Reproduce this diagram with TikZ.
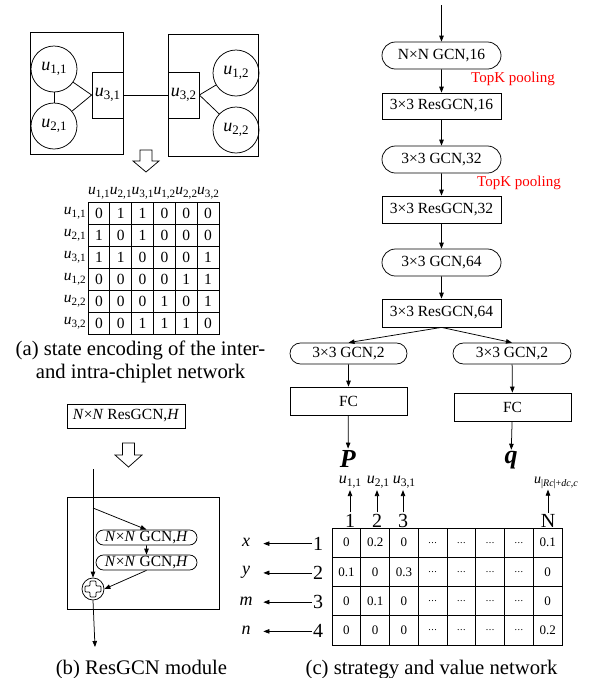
\documentclass[tikz,border=0pt]{standalone}
\usepackage{fontspec}
\setmainfont{Liberation Serif}
\usepackage{graphicx}
\usetikzlibrary{arrows.meta,calc,shapes.misc}
\newcommand\fs[1]{\fontsize{#1}{#1}\selectfont}
\newcommand\ssub[1]{\raisebox{-0.45ex}{\scalebox{0.72}{#1}}}
\newcommand\uv[1]{\textit{u}\ssub{#1}}
\newcommand\dd{{\fs{10}.\kern0.5pt.\kern0.5pt.}}
\begin{document}
\begin{tikzpicture}[x=1pt,y=-1pt,line width=0.75pt,
  arr/.style={-{Triangle[length=6pt,width=4.5pt]}},
  pill/.style={draw,rounded rectangle,inner sep=0pt,font=\fs{15.5}},
  rbox/.style={draw,rectangle,inner sep=0pt,font=\fs{15.5}},
  chipc/.style={draw,circle,minimum size=46pt,inner sep=0pt,font=\fs{18}},
  chipr/.style={draw,rectangle,minimum width=31pt,minimum height=46pt,inner sep=0pt,font=\fs{18}},
  mcell/.style={draw,rectangle,minimum width=21.83pt,minimum height=22pt,inner sep=0pt,font=\fs{15.5}},
  mhead/.style={inner sep=0pt,font=\fs{15.5}},
  tcell/.style={draw,rectangle,minimum width=28.75pt,minimum height=29.25pt,inner sep=0pt,font=\fs{13}},
  bignum/.style={inner sep=1pt,font=\fs{20}},
  letter/.style={inner sep=0pt,minimum width=34pt,font=\fs{18}\itshape},
  topk/.style={text=red,inner sep=0pt,font=\fs{15}},
  caption/.style={inner sep=0pt,anchor=base,font=\fs{20.7}},
  hollow/.style={draw,fill=white,line width=0.75pt}
]
\fill[white] (0,0) rectangle (599,678);
\useasboundingbox (0,0) rectangle (599,678);

% ---------- (a) chiplet graph ----------
\node[draw,minimum width=93pt,minimum height=122pt,inner sep=0pt] (chip1) at (76.5,93) {};
\node[draw,minimum width=90pt,minimum height=122pt,inner sep=0pt] (chip2) at (213,95) {};
\node[chipc] (a11) at (54,69) {\uv{1,1}};
\node[chipc] (a21) at (54,126) {\uv{2,1}};
\node[chipr] (a31) at (107.5,95) {\uv{3,1}};
\node[chipr] (a32) at (183.5,95) {\uv{3,2}};
\node[chipc] (a12) at (236,73) {\uv{1,2}};
\node[chipc] (a22) at (236,130) {\uv{2,2}};
\draw (a11) -- (a21);
\draw (a11) -- (a31.west);
\draw (a21) -- (a31.west);
\draw (a31.east) -- (a32.west);
\draw (a32.east) -- (a12);
\draw (a32.east) -- (a22);

% hollow arrow 1
\draw[hollow] (140,150) -- (152,150) -- (152,161) -- (159,161) -- (146,172) -- (133,161) -- (140,161) -- cycle;

% ---------- adjacency matrix ----------
\foreach \lab [count=\j] in {{1,1},{2,1},{3,1},{1,2},{2,2},{3,2}}{
  \node[mhead] (mh\j) at ({88+21.83*(\j-0.5)},193) {\uv{\lab}};
  \node[mhead,anchor=east] (mr\j) at (86,{202+22*(\j-0.5)}) {\uv{\lab}};
}
\foreach \row [count=\i] in {{0,1,1,0,0,0},{1,0,1,0,0,0},{1,1,0,0,0,1},{0,0,0,0,1,1},{0,0,0,1,0,1},{0,0,1,1,1,0}}{
  \foreach \v [count=\j] in \row {
    \node[mcell] (m-\i-\j) at ({88+21.83*(\j-0.5)},{202+22*(\i-0.5)}) {\v};
  }
}

\node[caption] (capa1) at (140.5,355) {(a) state encoding of the inter-};
\node[caption] (capa2) at (140.5,378) {and intra-chiplet network};

% ---------- (b) ResGCN module ----------
\node[rbox,minimum width=118pt,minimum height=24pt] (resb) at (126,416) {\textit{N}×\textit{N} ResGCN,\textit{H}};
\draw[hollow] (122.5,443) -- (134.5,443) -- (134.5,455) -- (142,455) -- (128.5,467) -- (115,455) -- (122.5,455) -- cycle;

\node[draw,minimum width=152pt,minimum height=112pt,inner sep=0pt] (mod) at (143,553) {};
\node[pill,minimum width=101pt,minimum height=15pt] (gh1) at (146.5,537.5) {\textit{N}×\textit{N} GCN,\textit{H}};
\node[pill,minimum width=101pt,minimum height=15pt] (gh2) at (146.5,562.5) {\textit{N}×\textit{N} GCN,\textit{H}};
\node[draw,circle,minimum size=22pt,inner sep=0pt] (plus) at (93,589) {};
\draw[rounded corners=0.8pt,shift={(plus.center)}] (-3,-8) -- (3,-8) -- (3,-3) -- (8,-3) -- (8,3) -- (3,3) -- (3,8) -- (-3,8) -- (-3,3) -- (-8,3) -- (-8,-3) -- (-3,-3) -- cycle;
\coordinate (min) at (93,469);
\coordinate (br) at (93,508);
\coordinate (mout) at (95,647);
\draw[arr] (min) -- (plus.north);
\draw[arr] (br) -- (gh1.north);
\draw[arr] (gh1) -- (gh2);
\draw[arr] (gh2.south) -- (plus.east);
\draw[arr] (plus.south) -- (mout);

\node[caption] (capb) at (141.5,674) {(b) ResGCN module};

% ---------- (c) strategy and value network ----------
\coordinate (in) at (441.5,5);
\node[pill,minimum width=119pt,minimum height=27pt] (g16) at (441.5,55.5) {N×N GCN,16};
\node[topk] (tk1) at (513,79) {TopK pooling};
\node[rbox,minimum width=119pt,minimum height=26pt] (r16) at (441.5,106) {3×3 ResGCN,16};
\node[pill,minimum width=119pt,minimum height=27pt] (g32) at (441.5,159.5) {3×3 GCN,32};
\node[topk] (tk2) at (519,183) {TopK pooling};
\node[rbox,minimum width=119pt,minimum height=27pt] (r32) at (441.5,209.5) {3×3 ResGCN,32};
\node[pill,minimum width=119pt,minimum height=27pt] (g64) at (441.5,262.5) {3×3 GCN,64};
\node[rbox,minimum width=119pt,minimum height=28pt] (r64) at (441.5,313) {3×3 ResGCN,64};
\node[pill,minimum width=117pt,minimum height=21pt] (g2l) at (348.5,353.5) {3×3 GCN,2};
\node[pill,minimum width=118pt,minimum height=21pt] (g2r) at (512,353.5) {3×3 GCN,2};
\node[rbox,minimum width=117pt,minimum height=28pt] (fcl) at (348.5,401) {FC};
\node[rbox,minimum width=117pt,minimum height=28pt] (fcr) at (512.5,407) {FC};
\node[inner sep=1pt,font=\fs{26}] (P) at (348,458.5) {\textbf{\textit{P}}};
\node[inner sep=1pt,font=\fs{26}] (q) at (511,460) {\textbf{\textit{q}}};

\draw[arr] (in) -- (g16);
\draw[arr] (g16) -- (r16);
\draw[arr] (r16) -- (g32);
\draw[arr] (g32) -- (r32);
\draw[arr] (r32) -- (g64);
\draw[arr] (g64) -- (r64);
\draw[arr] (r64.south) -- (g2l.north);
\draw[arr] (r64.south) -- (g2r.north);
\draw[arr] (g2l) -- (fcl);
\draw[arr] (g2r) -- (fcr);
\draw[arr] (fcl) -- (P);
\draw[arr] (fcr) -- (q);

% table
\foreach \row [count=\i] in {{0,0.2,0,\dd,\dd,\dd,\dd,0.1},{0.1,0,0.3,\dd,\dd,\dd,\dd,0},{0,0.1,0,\dd,\dd,\dd,\dd,0},{0,0,0,\dd,\dd,\dd,\dd,0.2}}{
  \foreach \v [count=\j] in \row {
    \node[tcell] (t-\i-\j) at ({332+28.75*(\j-0.5)},{528+29.25*(\i-0.5)}) {\v};
  }
}
% column numbers and labels
\node[bignum,anchor=base] (cn1) at (350,527) {1};
\node[bignum,anchor=base] (cn2) at (377,527) {2};
\node[bignum,anchor=base] (cn3) at (403,527) {3};
\node[bignum,anchor=base] (cnN) at (548,527) {N};
\node[inner sep=1pt,font=\fs{16}] (cl1) at (350,482.5) {\uv{1,1}};
\node[inner sep=1pt,font=\fs{16}] (cl2) at (378,482.5) {\uv{2,1}};
\node[inner sep=1pt,font=\fs{16}] (cl3) at (404,482.5) {\uv{3,1}};
\node[inner sep=1pt,font=\fs{14}] (clN) at (556,482.5) {\uv{|\textit{Rc}|+\textit{dc},\textit{c}}};
\draw[arr] (cn1.north) -- (cn1.north |- cl1.south);
\draw[arr] (cn2.north) -- (cn2.north |- cl2.south);
\draw[arr] (cn3.north) -- (cn3.north |- cl3.south);
\draw[arr] (cnN.north) -- (cnN.north |- clN.south);
% row numbers and letters
\foreach \l [count=\i] in {x,y,m,n}{
  \node[bignum] (rn\i) at (318,{528+29.25*(\i-0.5)+1}) {\i};
  \node[letter] (lt\i) at (246,{528+29.25*(\i-0.5)}) {\l};
  \draw[arr] (rn\i.west) -- (lt\i.east |- rn\i.west);
}

\node[caption] (capc) at (431.5,674) {(c) strategy and value network};
\end{tikzpicture}
\end{document}
